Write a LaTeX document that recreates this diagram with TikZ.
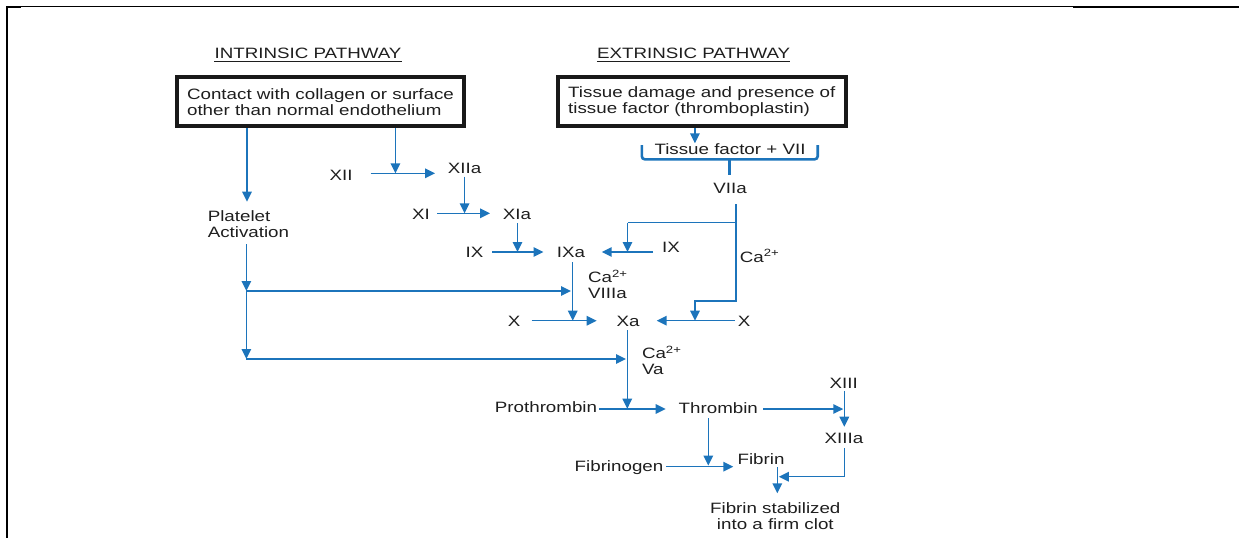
\documentclass[tikz,border=0pt]{standalone}
\usepackage{fontspec}
\setmainfont{Liberation Sans}[FakeStretch=1.25]
\usetikzlibrary{arrows.meta}
\definecolor{arrblue}{RGB}{28,116,187}
\definecolor{txt}{RGB}{30,30,30}
\begin{document}
\begin{tikzpicture}[x=1pt,y=-1pt,
  lbl/.style={inner sep=0pt, anchor=base, text=txt, font={\fontsize{15}{16}\selectfont}},
  mlbl/.style={inner sep=0pt, anchor=west, align=left, text=txt, font={\fontsize{15}{16}\selectfont}},
  cbox/.style={draw=black!90, line width=4pt, inner sep=0pt, align=left, text=txt, font={\fontsize{15}{16}\selectfont}},
  arr/.style={draw=arrblue, line width=1.5pt, -{Triangle[length=10pt,width=9.5pt]}},
  ln/.style={draw=arrblue, line width=1.5pt},
]
\useasboundingbox (0,0) rectangle (1239,538);
% frame
\draw[line width=1pt] (6,6.8) -- (1239,6.8);
\draw[line width=2pt] (6,7.3) -- (20.5,7.3);
\draw[line width=2pt] (1073,7.3) -- (1239,7.3);
\draw[line width=2.2pt] (7,6) -- (7,538);

% headers
\node[lbl] (intr) at (308,58.7) {INTRINSIC PATHWAY};
\node[lbl] (extr) at (693.6,58.7) {EXTRINSIC PATHWAY};
\draw[txt, line width=0.9pt] ([yshift=-2pt]intr.south west) -- ([yshift=-2pt]intr.south east);
\draw[txt, line width=0.9pt] ([yshift=-2pt]extr.south west) -- ([yshift=-2pt]extr.south east);

% boxes
\node[cbox, minimum width=286.6pt, minimum height=49pt] (box1) at (320.5,101.8)
  {Contact with collagen or surface\\other than normal endothelium};
\node[cbox, minimum width=288.4pt, minimum height=49pt] (box2) at (701.8,101.8)
  {Tissue damage and presence of\\tissue factor (thromboplastin)};

% labels
\node[mlbl] (plat) at (207.6,224.5) {Platelet\\Activation};
\node[lbl] (xii) at (341,180.4) {XII};
\node[lbl] (xiia) at (464.6,173.7) {XIIa};
\node[lbl] (xi) at (421,219.4) {XI};
\node[lbl] (xia) at (517,219.4) {XIa};
\node[lbl] (ixl) at (474.5,257.7) {IX};
\node[lbl] (ixa) at (571,257.4) {IXa};
\node[lbl] (ixr) at (671,252.7) {IX};
\node[lbl] (tf) at (730,154.7) {Tissue factor + VII};
\node[lbl] (viia) at (730,193.7) {VIIa};
\node[lbl, anchor=base west] (caA) at (739.6,262.1) {Ca\textsuperscript{2+}};
\node[mlbl] (caB) at (588,284.3) {Ca\textsuperscript{2+}\\VIIIa};
\node[lbl] (xl) at (514,326.1) {X};
\node[lbl] (xa) at (628,326.1) {Xa};
\node[lbl] (xr) at (744,326.1) {X};
\node[mlbl] (caC) at (641.8,360.3) {Ca\textsuperscript{2+}\\Va};
\node[lbl] (proth) at (546,412.7) {Prothrombin};
\node[lbl] (thr) at (718.3,413.1) {Thrombin};
\node[lbl] (xiii) at (843.7,388.1) {XIII};
\node[lbl] (xiiia) at (844,443.7) {XIIIa};
\node[lbl] (fbg) at (619,471.4) {Fibrinogen};
\node[lbl] (fib) at (761,464.7) {Fibrin};
\node[mlbl, anchor=center, align=center] (clot) at (775.3,516.2) {Fibrin stabilized\\into a firm clot};

% bracket under tissue factor + VII
\draw[ln, line width=2.6pt, rounded corners=3pt] (641.8,145) -- (641.8,159.3) -- (817.7,159.3) -- (817.7,145);
\draw[ln, line width=3.4pt] (729.7,159.3) -- (729.7,175);

% named points
\coordinate (b1a) at (box1.south -| 247,0);
\coordinate (pltop) at (247,201.7);
\coordinate (pl0) at (246.4,244.3);
\coordinate (j1) at (246.4,291);
\coordinate (j2) at (246.4,359);
\coordinate (j1e) at (571,291);
\coordinate (j2e) at (626,359);
\coordinate (b1b) at (box1.south -| 395.4,0);
\coordinate (xiiln) at (395.4,173.3);
\coordinate (xiis) at (370.5,173.3);
\coordinate (xiie) at (435,173.3);
\coordinate (xiiad0) at (464.6,176.5);
\coordinate (xiiad1) at (464.6,213.3);
\coordinate (xis) at (437,213.3);
\coordinate (xie) at (490,213.3);
\coordinate (xiad0) at (517.5,223);
\coordinate (xiad1) at (517.5,252);
\coordinate (ixls) at (492,252);
\coordinate (ixle) at (543.5,252);
\coordinate (ixrs) at (653,252);
\coordinate (ixre) at (601.7,252);
\coordinate (v0) at (736,204);
\coordinate (vbr) at (736,222.7);
\coordinate (vbl) at (627.5,222.7);
\coordinate (vbe) at (627.5,252);
\coordinate (v1) at (736,301);
\coordinate (v2) at (695,301);
\coordinate (v3) at (695,320.7);
\coordinate (ixad0) at (572.7,262.3);
\coordinate (ixad1) at (572.7,320.7);
\coordinate (xls) at (531.7,320.7);
\coordinate (xle) at (596.7,320.7);
\coordinate (xrs) at (735,320.7);
\coordinate (xre) at (656.7,320.7);
\coordinate (xad0) at (627.3,330);
\coordinate (xad1) at (627.3,408.7);
\coordinate (prs) at (599,409);
\coordinate (pre) at (665.6,409);
\coordinate (ths) at (763.3,409);
\coordinate (the) at (843.3,409);
\coordinate (xiii0) at (844.3,390.5);
\coordinate (xiii1) at (844.3,426.7);
\coordinate (xiiia0) at (844.3,448.3);
\coordinate (xiiia1) at (844.3,476.7);
\coordinate (xiiia2) at (778.8,476.7);
\coordinate (thd0) at (708.3,418.3);
\coordinate (thd1) at (708.3,465.5);
\coordinate (fbs) at (666,466.7);
\coordinate (fbe) at (733.3,466.7);
\coordinate (fid0) at (777.3,467.3);
\coordinate (fid1) at (777.3,493.3);
\coordinate (b2a) at (box2.south -| 694.9,0);
\coordinate (b2e) at (694.9,143.3);

% connectors
\draw[arr] (b1a) -- (pltop);
\draw[arr] (pl0) -- (j1);
\draw[arr] (j1) -- (j2);
\draw[arr] (j1) -- (j1e);
\draw[arr] (j2) -- (j2e);
\draw[arr] (b1b) -- (xiiln);
\draw[arr] (xiis) -- (xiie);
\draw[arr] (xiiad0) -- (xiiad1);
\draw[arr] (xis) -- (xie);
\draw[arr] (xiad0) -- (xiad1);
\draw[arr] (ixls) -- (ixle);
\draw[arr] (ixrs) -- (ixre);
\draw[arr] (b2a) -- (b2e);
\draw[ln] (vbr) -- (vbl);
\draw[arr] (vbl) -- (vbe);
\draw[arr] (v0) -- (v1) -- (v2) -- (v3);
\draw[arr] (ixad0) -- (ixad1);
\draw[arr] (xls) -- (xle);
\draw[arr] (xrs) -- (xre);
\draw[arr] (xad0) -- (xad1);
\draw[arr] (prs) -- (pre);
\draw[arr] (ths) -- (the);
\draw[arr] (xiii0) -- (xiii1);
\draw[arr] (xiiia0) -- (xiiia1) -- (xiiia2);
\draw[arr] (thd0) -- (thd1);
\draw[arr] (fbs) -- (fbe);
\draw[arr] (fid0) -- (fid1);
\end{tikzpicture}
\end{document}
